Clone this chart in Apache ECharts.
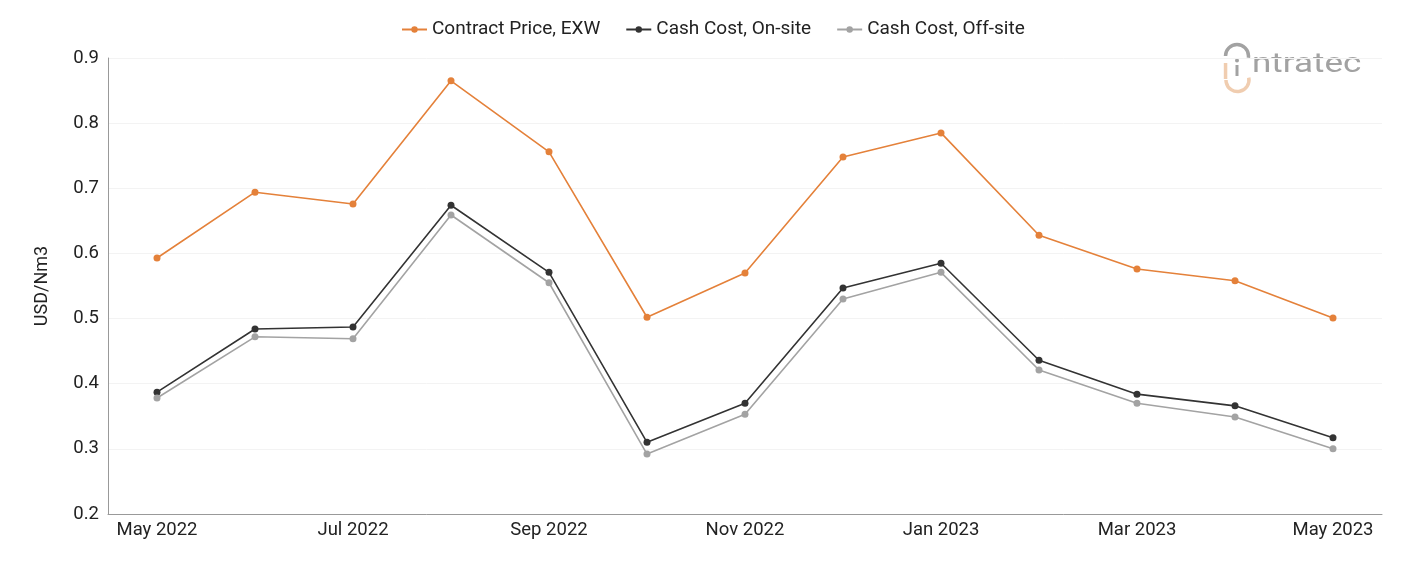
<!DOCTYPE html>
<html>
<head>
<meta charset="utf-8">
<script src="https://cdn.jsdelivr.net/npm/echarts@6/dist/echarts.min.js"></script>
<style>
  html, body { margin: 0; padding: 0; background: #fff; }
  #chart { width: 1401px; height: 561px; }
</style>
</head>
<body>
<div id="chart"></div>
<script>
// months shown on the x axis
const months = ['May 2022', 'Jun 2022', 'Jul 2022', 'Aug 2022', 'Sep 2022', 'Oct 2022',
  'Nov 2022', 'Dec 2022', 'Jan 2023', 'Feb 2023', 'Mar 2023', 'Apr 2023', 'May 2023']

const contractPrice = [0.593, 0.694, 0.676, 0.865, 0.756, 0.502, 0.570, 0.748, 0.785, 0.628, 0.576, 0.558, 0.501]
const cashOnSite = [0.387, 0.484, 0.487, 0.674, 0.571, 0.310, 0.370, 0.547, 0.585, 0.436, 0.384, 0.366, 0.317]
const cashOffSite = [0.378, 0.472, 0.469, 0.659, 0.555, 0.292, 0.353, 0.530, 0.571, 0.421, 0.370, 0.349, 0.300]

const font = 'Roboto, sans-serif'
const logoGray = '#a2a2a2'
const logoOrange = '#f0cdb0'

function lineSeries (name, data, color) {
  return {
    name: name,
    type: 'line',
    data: data,
    symbol: 'circle',
    symbolSize: 7,
    lineStyle: { color: color, width: 1.6 },
    itemStyle: { color: color },
    emphasis: { disabled: true }
  }
}

const chart = echarts.init(document.getElementById('chart'))
chart.setOption({
  animation: false,
  textStyle: { fontFamily: font },
  legend: {
    top: 15,
    left: 396,
    itemGap: 25,
    itemWidth: 25,
    itemHeight: 8,
    textStyle: { fontSize: 19, color: '#222', fontFamily: font }
  },
  grid: { left: 108, right: 19, top: 58, bottom: 47 },
  xAxis: {
    type: 'category',
    data: months,
    boundaryGap: true,
    axisLine: { lineStyle: { color: '#999', width: 1 } },
    axisTick: { show: false },
    axisLabel: { interval: 1, fontSize: 18.5, color: '#222', margin: 7, fontFamily: font }
  },
  yAxis: {
    type: 'value',
    min: 0.2,
    max: 0.9,
    interval: 0.1,
    name: 'USD/Nm3',
    nameLocation: 'middle',
    nameGap: 57,
    nameTextStyle: { fontSize: 18, color: '#222', fontFamily: font },
    axisLine: { show: true, lineStyle: { color: '#999', width: 1 } },
    axisTick: { show: false },
    splitLine: { lineStyle: { color: '#f3f3f3', width: 1 } },
    axisLabel: { fontSize: 18.5, color: '#222', margin: 9, fontFamily: font,
      formatter: v => v.toFixed(1) }
  },
  graphic: [
    // intratec logo
    { type: 'arc', shape: { cx: 1237, cy: 56, r: 11.5, startAngle: Math.PI, endAngle: 0.15 },
      style: { stroke: logoGray, lineWidth: 3.5, fill: null } },
    { type: 'rect', shape: { x: 1223.8, y: 63, width: 3.5, height: 16 }, style: { fill: logoOrange } },
    { type: 'arc', shape: { cx: 1237.5, cy: 80, r: 11.5, startAngle: -0.2, endAngle: Math.PI },
      style: { stroke: logoOrange, lineWidth: 3.5, fill: null } },
    { type: 'circle', shape: { cx: 1237, cy: 60.5, r: 2 }, style: { fill: logoGray } },
    { type: 'rect', shape: { x: 1235.5, y: 65, width: 3, height: 11 }, style: { fill: logoGray } },
    { type: 'text', x: 1252, y: 51, scaleX: 1.25,
      style: { text: 'ntratec', fontSize: 28, fontFamily: font, fill: logoGray } }
  ],
  series: [
    lineSeries('Contract Price, EXW', contractPrice, '#e4813a'),
    lineSeries('Cash Cost, On-site', cashOnSite, '#333333'),
    lineSeries('Cash Cost, Off-site', cashOffSite, '#a3a3a3')
  ]
})
</script>
</body>
</html>
